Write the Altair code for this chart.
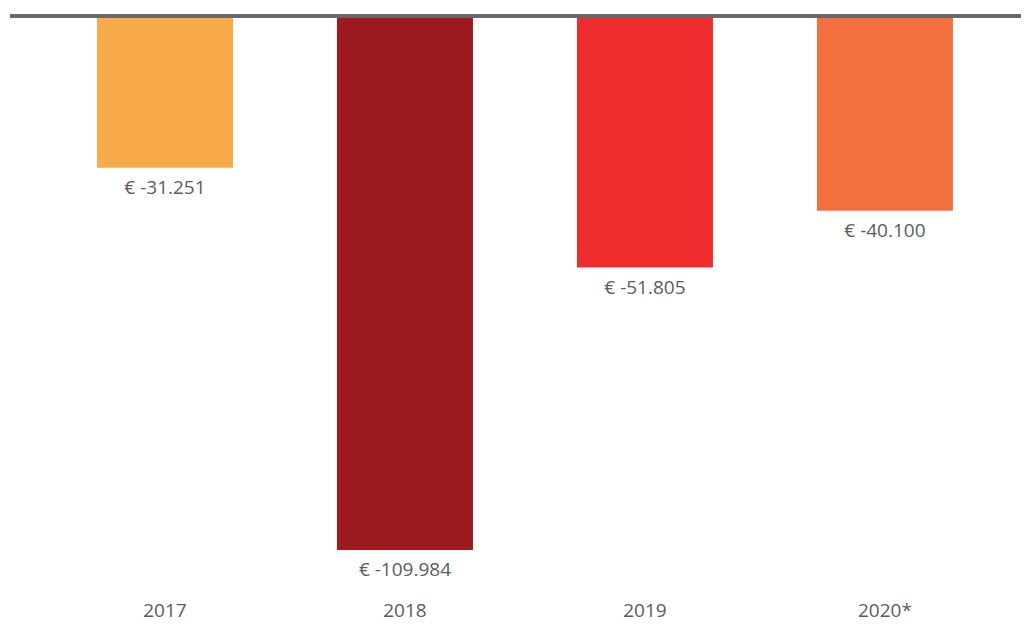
import altair as alt
import pandas as pd

years = ["2017", "2018", "2019", "2020*"]
values = [-31251, -109984, -51805, -40100]
colors = ["#F9AA4B", "#9D1A1F", "#EE2E2E", "#F2703D"]

labels = ["€ -" + f"{abs(v):,}".replace(",", ".") for v in values]

df = pd.DataFrame({"year": years, "value": values, "label": labels, "color": colors})

FONT = "Open Sans"
TXT = "#5c5c5c"

x = alt.X(
    "year:N",
    sort=years,
    scale=alt.Scale(paddingInner=0.433, paddingOuter=0.3228, align=0.561),
    axis=alt.Axis(
        title=None, orient="bottom", domain=False, ticks=False, grid=False,
        labelAngle=0, labelFont=FONT, labelFontSize=19, labelColor=TXT,
        labelPadding=11, labelBaseline="alphabetic",
    ),
)
y = alt.Y(
    "value:Q",
    scale=alt.Scale(domain=[-121300, 0], nice=False, zero=True),
    axis=None,
)

bars = alt.Chart(df).mark_bar(size=136).encode(
    x=x, y=y, color=alt.Color("color:N", scale=None)
)

text = alt.Chart(df).mark_text(
    baseline="top", dy=11, font=FONT, fontSize=19, color=TXT
).encode(x=x, y=y, text="label:N")

rule = alt.Chart(df).mark_rule(color="#666666", strokeWidth=3).encode(
    y=alt.datum(0)
)

chart = alt.layer(bars, text, rule).properties(
    width=1011,
    height=589,
    autosize=alt.AutoSizeParams(type="none"),
    padding={"top": 8, "left": 2, "right": 0, "bottom": 18},
).configure_view(stroke=None)

chart.save("out.html", embed_options={"renderer": "svg", "actions": False})
